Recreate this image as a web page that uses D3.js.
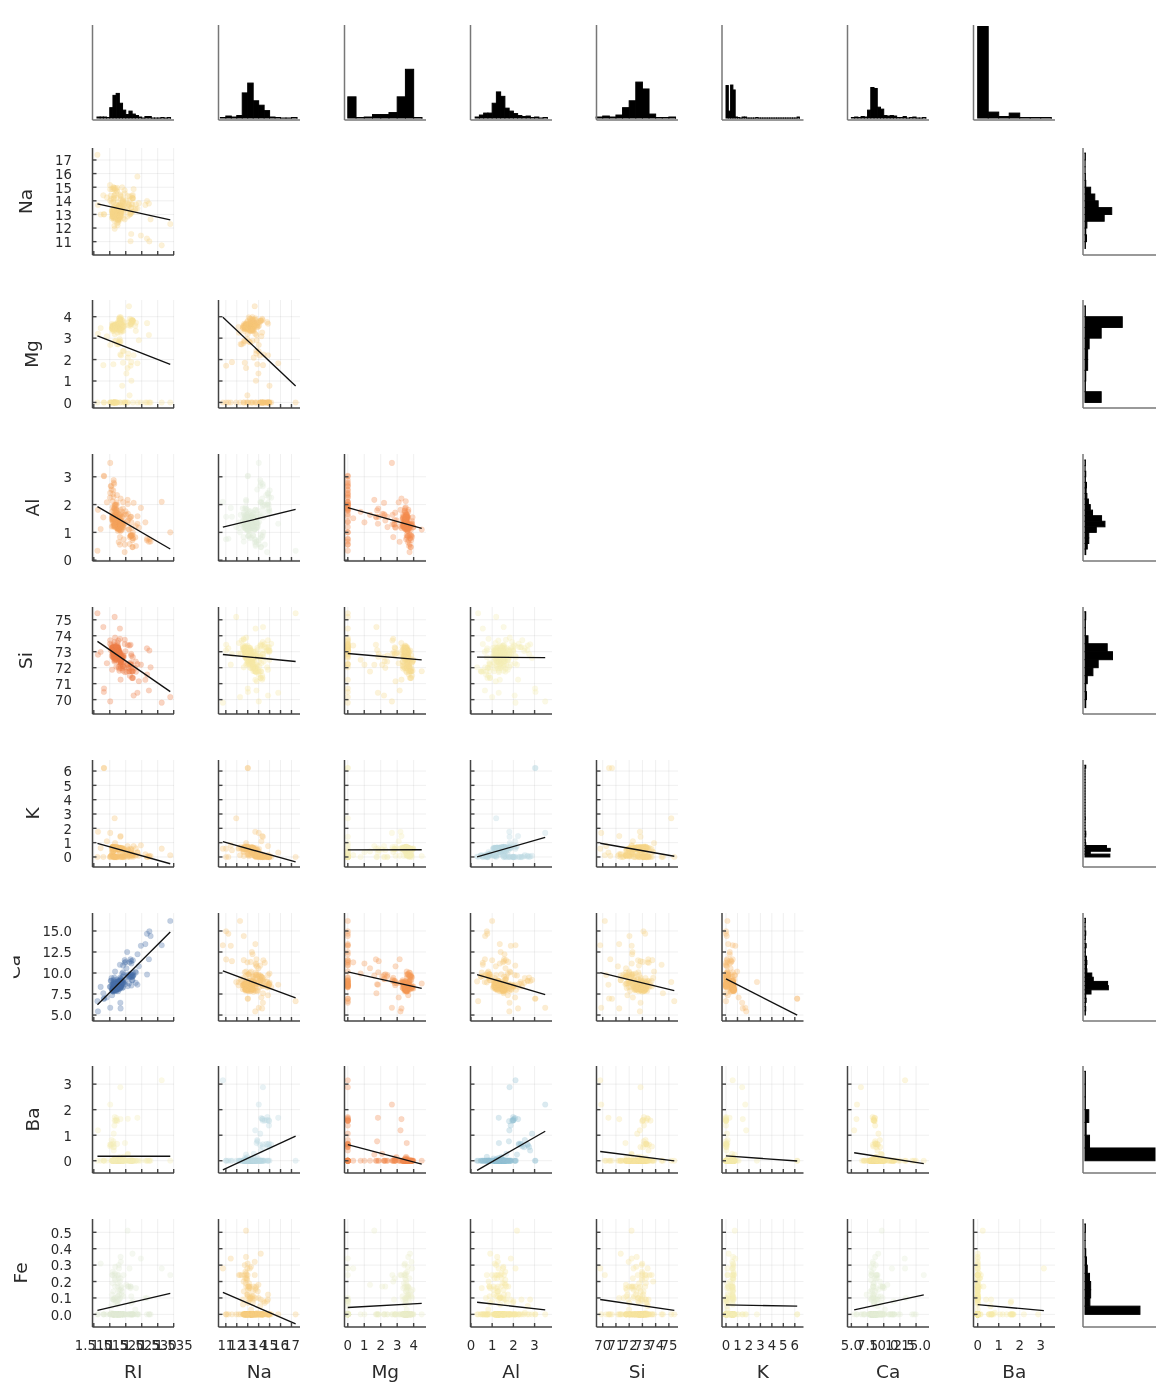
<!DOCTYPE html>
<html><head><meta charset="utf-8">
<script src="https://cdn.jsdelivr.net/npm/d3@7"></script>
<style>
html,body{margin:0;padding:0;background:#fff}
svg{display:block;filter:blur(0.6px)}
text{font-family:"DejaVu Sans",sans-serif}
</style></head><body><div id="chart"></div>
<script>
// columns: RI, Na, Mg, Al, Si, K, Ca, Ba, Fe
const windowFloat=[[1.52101,13.64,4.49,1.10,71.78,0.06,8.75,0,0],[1.51761,13.89,3.60,1.36,72.73,0.48,7.83,0,0],[1.51618,13.53,3.55,1.54,72.99,0.39,7.78,0,0],[1.51766,13.21,3.69,1.29,72.61,0.57,8.22,0,0],[1.51742,13.27,3.62,1.24,73.08,0.55,8.07,0,0],[1.51596,12.79,3.61,1.62,72.97,0.64,8.07,0,0.26],[1.51743,13.30,3.60,1.14,73.09,0.58,8.17,0,0],[1.51756,13.15,3.61,1.05,73.24,0.57,8.24,0,0],[1.51918,14.04,3.58,1.37,72.08,0.56,8.30,0,0],[1.51755,13.00,3.60,1.36,72.99,0.57,8.40,0,0.11],[1.51571,12.72,3.46,1.56,73.20,0.67,8.09,0,0.24],[1.51763,12.80,3.66,1.27,73.01,0.60,8.56,0,0],[1.51589,12.88,3.43,1.40,73.28,0.69,8.05,0,0.24],[1.51748,12.86,3.56,1.27,73.21,0.54,8.38,0,0.17],[1.51763,12.61,3.59,1.31,73.29,0.58,8.50,0,0],[1.51761,12.81,3.54,1.23,73.24,0.58,8.39,0,0],[1.51784,12.68,3.67,1.16,73.11,0.61,8.70,0,0],[1.52196,14.36,3.85,0.89,71.36,0.15,9.15,0,0],[1.51911,13.90,3.73,1.18,72.12,0.06,8.89,0,0],[1.51735,13.02,3.54,1.69,72.73,0.54,8.44,0,0.07],[1.51750,12.82,3.55,1.49,72.75,0.54,8.52,0,0.19],[1.51966,14.77,3.75,0.29,72.02,0.03,9.00,0,0],[1.51736,12.78,3.62,1.29,72.79,0.59,8.70,0,0],[1.51751,12.81,3.57,1.35,73.02,0.62,8.59,0,0],[1.51720,13.38,3.50,1.15,72.85,0.50,8.43,0,0],[1.51764,12.98,3.54,1.21,73.00,0.65,8.53,0,0],[1.51793,13.21,3.48,1.41,72.64,0.59,8.43,0,0],[1.51721,12.87,3.48,1.33,73.04,0.56,8.43,0,0],[1.51768,12.56,3.52,1.43,73.15,0.57,8.54,0,0],[1.51784,13.08,3.49,1.28,72.86,0.60,8.49,0,0],[1.51768,12.65,3.56,1.30,73.08,0.61,8.69,0,0.14],[1.51747,12.84,3.50,1.14,73.27,0.56,8.55,0,0],[1.51775,12.85,3.48,1.23,72.97,0.61,8.56,0.09,0.22],[1.51753,12.57,3.47,1.38,73.39,0.60,8.55,0,0.06],[1.51783,12.69,3.54,1.34,72.95,0.57,8.75,0,0],[1.51567,13.29,3.45,1.21,72.74,0.56,8.57,0,0],[1.51909,13.89,3.53,1.32,71.81,0.51,8.78,0.11,0],[1.51797,12.74,3.48,1.35,72.96,0.64,8.68,0,0],[1.52213,14.21,3.82,0.47,71.77,0.11,9.57,0,0],[1.52213,14.21,3.82,0.47,71.77,0.11,9.57,0,0],[1.51793,12.79,3.50,1.12,73.03,0.64,8.77,0,0],[1.51755,12.71,3.42,1.20,73.20,0.59,8.64,0,0],[1.51779,13.21,3.39,1.33,72.76,0.59,8.59,0,0],[1.52210,13.73,3.84,0.72,71.76,0.17,9.74,0,0],[1.51786,12.73,3.43,1.19,72.95,0.62,8.76,0,0.30],[1.51900,13.49,3.48,1.35,71.95,0.55,9.00,0,0],[1.51869,13.19,3.37,1.18,72.72,0.57,8.83,0,0.16],[1.52667,13.99,3.70,0.71,71.57,0.02,9.82,0,0.10],[1.52223,13.21,3.77,0.79,71.99,0.13,10.02,0,0],[1.51898,13.58,3.35,1.23,72.08,0.59,8.91,0,0],[1.52320,13.72,3.72,0.51,71.75,0.09,10.06,0,0.16],[1.51926,13.20,3.33,1.28,72.36,0.60,9.14,0,0.11],[1.51808,13.43,2.87,1.19,72.84,0.55,9.03,0,0],[1.51837,13.14,2.84,1.28,72.85,0.55,9.07,0,0],[1.51778,13.21,2.81,1.29,72.98,0.51,9.02,0,0.09],[1.51769,12.45,2.71,1.29,73.70,0.56,9.06,0,0.24],[1.51215,12.99,3.47,1.12,72.98,0.62,8.35,0,0.31],[1.51824,12.87,3.48,1.29,72.95,0.60,8.43,0,0],[1.51754,13.48,3.74,1.17,72.99,0.59,8.03,0,0],[1.51754,13.39,3.66,1.19,72.79,0.57,8.27,0,0.11],[1.51905,13.60,3.62,1.11,72.64,0.14,8.76,0,0],[1.51977,13.81,3.58,1.32,71.72,0.12,8.67,0.69,0],[1.52172,13.51,3.86,0.88,71.79,0.23,9.54,0,0.11],[1.52227,14.17,3.81,0.78,71.35,0,9.69,0,0],[1.52172,13.48,3.74,0.90,72.01,0.18,9.61,0,0.07],[1.52099,13.69,3.59,1.12,71.96,0.09,9.40,0,0],[1.52152,13.05,3.65,0.87,72.22,0.19,9.85,0,0.17],[1.52152,13.05,3.65,0.87,72.32,0.19,9.85,0,0.17],[1.52152,13.12,3.58,0.90,72.20,0.23,9.82,0,0.16],[1.52300,13.31,3.58,0.82,71.99,0.12,10.17,0,0.03]];
const windowNonFloat=[[1.51574,14.86,3.67,1.74,71.87,0.16,7.36,0,0.12],[1.51848,13.64,3.87,1.27,71.96,0.54,8.32,0,0.32],[1.51593,13.09,3.59,1.52,73.10,0.67,7.83,0,0],[1.51631,13.34,3.57,1.57,72.87,0.61,7.89,0,0],[1.51596,13.02,3.56,1.54,73.11,0.72,7.90,0,0],[1.51590,13.02,3.58,1.51,73.12,0.69,7.96,0,0],[1.51645,13.44,3.61,1.54,72.39,0.66,8.03,0,0],[1.51627,13.00,3.58,1.54,72.83,0.61,8.04,0,0],[1.51613,13.92,3.52,1.25,72.88,0.37,7.94,0,0.14],[1.51590,12.82,3.52,1.90,72.86,0.69,7.97,0,0],[1.51592,12.86,3.52,2.12,72.66,0.69,7.97,0,0],[1.51593,13.25,3.45,1.43,73.17,0.61,7.86,0,0],[1.51646,13.41,3.55,1.25,72.81,0.68,8.10,0,0],[1.51594,13.09,3.52,1.55,72.87,0.68,8.05,0,0.09],[1.51409,14.25,3.09,2.08,72.28,1.10,7.08,0,0],[1.51625,13.36,3.58,1.49,72.72,0.45,8.21,0,0],[1.51569,13.24,3.49,1.47,73.25,0.38,8.03,0,0],[1.51645,13.40,3.49,1.52,72.65,0.67,8.08,0,0.10],[1.51618,13.01,3.50,1.48,72.89,0.60,8.12,0,0],[1.51640,12.55,3.48,1.87,73.23,0.63,8.08,0,0.09],[1.51841,12.93,3.74,1.11,72.28,0.64,8.96,0,0.22],[1.51605,12.90,3.44,1.45,73.06,0.44,8.27,0,0],[1.51588,13.12,3.41,1.58,73.26,0.07,8.39,0,0.19],[1.51590,13.24,3.34,1.47,73.10,0.39,8.22,0,0],[1.51629,12.71,3.33,1.49,73.28,0.67,8.24,0,0],[1.51860,13.36,3.43,1.43,72.26,0.51,8.60,0,0],[1.51841,13.02,3.62,1.06,72.34,0.64,9.13,0,0.15],[1.51743,12.20,3.25,1.16,73.55,0.62,8.90,0,0.24],[1.51689,12.67,2.88,1.71,73.21,0.73,8.54,0,0],[1.51811,12.96,2.96,1.43,72.92,0.60,8.79,0.14,0],[1.51655,12.75,2.85,1.44,73.27,0.57,8.79,0.11,0.22],[1.51730,12.35,2.72,1.63,72.87,0.70,9.23,0,0],[1.51820,12.62,2.76,0.83,73.81,0.35,9.42,0,0.20],[1.52725,13.80,3.15,0.66,70.57,0.08,11.64,0,0],[1.52410,13.83,2.90,1.17,71.15,0.08,10.79,0,0],[1.52475,11.45,0,1.88,72.19,0.81,13.24,0,0.34],[1.53125,10.73,0,2.10,69.81,0.58,13.30,3.15,0.28],[1.53393,12.30,0,1.00,70.16,0.12,16.19,0,0.24],[1.52222,14.43,0,1.00,72.67,0.10,11.52,0,0.08],[1.51818,13.72,0,0.56,74.45,0,10.99,0,0],[1.52664,11.23,0,0.77,73.21,0,14.68,0,0],[1.52739,11.02,0,0.75,73.08,0,14.96,0,0],[1.52777,12.64,0,0.67,72.02,0.06,14.40,0,0],[1.51892,13.46,3.83,1.26,72.55,0.57,8.21,0,0.14],[1.51847,13.10,3.97,1.19,72.44,0.60,8.43,0,0],[1.51846,13.41,3.89,1.33,72.38,0.51,8.28,0,0],[1.51829,13.24,3.90,1.41,72.33,0.55,8.31,0,0.10],[1.51708,13.72,3.68,1.81,72.06,0.64,7.88,0,0],[1.51673,13.30,3.64,1.53,72.53,0.65,8.03,0,0.29],[1.51652,13.56,3.57,1.47,72.45,0.64,7.96,0,0],[1.51844,13.25,3.76,1.32,72.40,0.58,8.42,0,0],[1.51663,12.93,3.54,1.62,72.96,0.64,8.03,0,0.21],[1.51687,13.23,3.54,1.48,72.84,0.56,8.10,0,0],[1.51707,13.48,3.48,1.71,72.52,0.62,7.99,0,0],[1.52177,13.20,3.68,1.15,72.75,0.54,8.52,0,0],[1.51872,12.93,3.66,1.56,72.51,0.58,8.55,0,0.12],[1.51667,12.94,3.61,1.26,72.75,0.56,8.60,0,0],[1.52081,13.78,2.28,1.43,71.99,0.49,9.85,0,0.17],[1.52068,13.55,2.09,1.67,72.18,0.53,9.57,0.27,0.17],[1.52020,13.98,1.35,1.63,71.76,0.39,10.56,0,0.18],[1.52177,13.75,1.01,1.36,72.19,0.33,11.14,0,0],[1.52614,13.70,0,1.36,71.24,0.19,13.44,0,0.10],[1.51813,13.43,3.98,1.18,72.49,0.58,8.15,0,0],[1.51800,13.71,3.93,1.54,71.81,0.54,8.21,0,0.15],[1.51811,13.33,3.85,1.25,72.78,0.52,8.12,0,0],[1.51789,13.19,3.90,1.30,72.33,0.55,8.44,0,0.28],[1.51806,13.00,3.80,1.08,73.07,0.56,8.38,0,0.12],[1.51711,12.89,3.62,1.57,72.96,0.61,8.11,0,0],[1.51674,12.79,3.52,1.54,73.36,0.66,7.90,0,0],[1.51674,12.87,3.56,1.64,73.14,0.65,7.99,0,0],[1.51690,13.33,3.54,1.61,72.54,0.68,8.11,0,0],[1.51851,13.20,3.63,1.07,72.83,0.57,8.41,0.09,0.17],[1.51662,12.85,3.51,1.44,73.01,0.68,8.23,0.06,0.25],[1.51709,13.00,3.47,1.79,72.72,0.66,8.18,0,0],[1.51660,12.99,3.18,1.23,72.97,0.58,8.81,0,0.24],[1.51839,12.85,3.67,1.24,72.57,0.62,8.68,0,0.35]];
const vehicleFloat=[[1.51769,13.65,3.66,1.11,72.77,0.11,8.60,0,0],[1.51610,13.33,3.53,1.34,72.67,0.56,8.33,0,0],[1.51670,13.24,3.57,1.38,72.70,0.56,8.44,0,0.10],[1.51643,12.16,3.52,1.35,72.89,0.57,8.53,0,0],[1.51665,13.14,3.45,1.76,72.48,0.60,8.38,0,0.17],[1.52127,14.32,3.90,0.83,71.50,0,9.49,0,0],[1.51779,13.64,3.65,0.65,73.00,0.06,8.93,0,0],[1.51610,13.42,3.40,1.22,72.69,0.59,8.32,0,0],[1.51694,12.86,3.58,1.31,72.61,0.61,8.79,0,0],[1.51646,13.04,3.40,1.26,73.01,0.52,8.58,0,0],[1.51655,13.41,3.39,1.28,72.64,0.52,8.65,0,0],[1.52121,14.03,3.76,0.58,71.79,0.11,9.65,0,0],[1.51776,13.53,3.41,1.52,72.04,0.58,8.79,0,0],[1.51796,13.50,3.36,1.63,71.94,0.57,8.81,0,0.09],[1.51832,13.33,3.34,1.54,72.14,0.56,8.99,0,0],[1.51934,13.64,3.54,0.75,72.65,0.16,8.89,0.15,0.24],[1.52211,14.19,3.78,0.91,71.36,0.23,9.14,0,0.37]];
const containers=[[1.51514,14.01,2.68,3.50,69.89,1.68,5.87,2.20,0],[1.51915,12.73,1.85,1.86,72.69,0.60,10.09,0,0],[1.52171,11.56,1.88,1.56,72.86,0.47,11.41,0,0],[1.52151,11.03,1.71,1.56,73.44,0.58,11.62,0,0],[1.51969,12.64,0,1.65,73.75,0.38,11.53,0,0],[1.51666,12.86,0,1.83,73.88,0.97,10.17,0,0],[1.51994,13.27,0,1.76,73.03,0.47,11.32,0,0],[1.52369,13.44,0,1.58,72.22,0.32,12.24,0,0],[1.51316,13.02,0,3.04,70.48,6.21,6.96,0,0],[1.51321,13.00,0,3.02,70.70,6.21,6.93,0,0],[1.52043,13.38,0,1.40,72.25,0.33,12.50,0,0],[1.52058,12.85,1.61,2.17,72.18,0.76,9.70,0.24,0.51],[1.52119,12.97,0.33,1.51,73.39,0.13,11.27,0,0.28]];
const tableware=[[1.51905,14.00,2.39,1.56,72.37,0,9.57,0,0],[1.51937,13.79,2.41,1.19,72.76,0,9.77,0,0],[1.51829,14.46,2.24,1.62,72.38,0,9.26,0,0],[1.51852,14.09,2.19,1.66,72.67,0,9.32,0,0],[1.51299,14.40,1.74,1.54,74.55,0,7.59,0,0],[1.51888,14.99,0.78,1.74,72.50,0,9.95,0,0],[1.51916,14.15,0,2.09,72.74,0,10.88,0,0],[1.51969,14.56,0,0.56,73.48,0,11.22,0,0],[1.51115,17.38,0,0.34,75.41,0,6.65,0,0]];
const headlamps=[[1.51131,13.69,3.20,1.81,72.81,1.76,5.43,1.19,0],[1.51838,14.32,3.26,2.22,71.25,1.46,5.79,1.63,0],[1.52315,13.44,3.34,1.23,72.38,0.60,8.83,0,0],[1.52247,14.86,2.20,2.06,70.26,0.76,9.76,0,0],[1.52365,15.79,1.83,1.31,70.43,0.31,8.61,1.68,0],[1.51613,13.88,1.78,1.79,73.10,0,8.67,0.76,0],[1.51602,14.85,0,2.38,73.28,0,8.76,0.64,0.09],[1.51623,14.20,0,2.79,73.46,0.04,9.04,0.40,0.09],[1.51719,14.75,0,2.00,73.02,0,8.53,1.59,0.08],[1.51683,14.56,0,1.98,73.29,0,8.52,1.57,0.07],[1.51545,14.14,0,2.68,73.39,0.08,9.07,0.61,0.05],[1.51556,13.87,0,2.54,73.23,0.14,9.41,0.81,0.01],[1.51727,14.70,0,2.34,73.28,0,8.95,0.66,0],[1.51531,14.38,0,2.66,73.10,0.04,9.08,0.64,0],[1.51609,15.01,0,2.51,73.05,0.05,8.83,0.53,0],[1.51508,15.15,0,2.25,73.50,0,8.34,0.63,0],[1.51653,11.95,0,1.19,75.18,2.70,8.93,0,0],[1.51514,14.85,0,2.42,73.72,0,8.39,0.56,0],[1.51658,14.80,0,1.99,73.11,0,8.28,1.71,0],[1.51617,14.95,0,2.27,73.30,0,8.71,0.67,0],[1.51732,14.95,0,1.80,72.99,0,8.61,1.55,0],[1.51645,14.94,0,1.87,73.11,0,8.67,1.38,0],[1.51831,14.39,0,1.82,72.86,1.41,6.47,2.88,0],[1.51640,14.37,0,2.74,72.85,0,9.45,0.54,0],[1.51623,14.14,0,2.88,72.61,0.08,9.18,1.06,0],[1.51685,14.92,0,1.99,73.06,0,8.40,1.59,0],[1.52065,14.36,0,2.02,73.42,0,8.44,1.64,0],[1.51651,14.38,0,1.94,73.61,0,8.48,1.57,0],[1.51711,14.23,0,2.08,73.36,0,8.62,1.67,0]];

const varNames=["RI","Na","Mg","Al","Si","K","Ca","Ba","Fe"];
const axisLimits=[[1.5096,1.5351],[10.33,17.78],[-0.2,4.75],[-0.02,3.82],[69.53,75.69],[-0.35,6.76],[4.4,17.0],[-0.2,3.68],[-0.077,0.581]];
const yLimits=[null,[10.02,17.88],[-0.26,4.78],[-0.03,3.82],[69.1,75.8],[-0.7,6.77],[4.29,17.14],[-0.48,3.71],[-0.077,0.581]];
const tickValues=[[1.51,1.515,1.52,1.525,1.53,1.535],[11,12,13,14,15,16,17],[0,1,2,3,4],[0,1,2,3],[70,71,72,73,74,75],[0,1,2,3,4,5,6],[5,7.5,10,12.5,15],[0,1,2,3],[0,0.1,0.2,0.3,0.4,0.5]];
const tickFormats=[".3f","d","d","d","d","d",".1f","d",".1f"];
const histSteps=[0.001,0.5,0.5,0.2,0.5,0.2,0.5,0.5,0.05];
const histStarts=[1.511,10.5,0,0.2,69.5,0,5,0,0];
const colLefts=[92.5,218.5,344.5,470.5,596.5,722,847.5,973.5];
const rowTops=[148,300,454,607,760,913,1066,1219];
const rowHeights=[107,108,107,107,107,108,107,108];
const ylabelBaselines=[null,32,38,39,32,39,20,39,27];
const panelWidth=81.5, rightHistLeft=1083, rightHistWidth=73;
const topHistTop=25, topHistBottom=120;

const rows=[...windowFloat,...windowNonFloat,...vehicleFloat,...containers,...tableware,...headlamps];
const col=i=>rows.map(r=>r[i]);
const svg=d3.select("#chart").append("svg").attr("width",1176).attr("height",1400);
const defs=svg.append("defs");
defs.append("clipPath").attr("id","caClip").append("rect").attr("x",13.4).attr("y",900).attr("width",60).attr("height",140);

const axisCol="#444", histAxisCol="#777", textCol="#2a2a2a";
const styleAxisLine=g=>g.select(".domain").attr("stroke",axisCol).attr("stroke-width",1.5);
const styleHistAxis=g=>g.select(".domain").attr("stroke",histAxisCol).attr("stroke-width",1.5);
function styleTicks(g){
  g.selectAll(".tick line").attr("stroke",axisCol).attr("stroke-width",1.4);
  g.selectAll(".tick text").attr("fill",textCol).attr("font-size",13.3).attr("font-family",'"DejaVu Sans",sans-serif');
}
function corr(a,b){
  const ma=d3.mean(a),mb=d3.mean(b);let sab=0,saa=0,sbb=0;
  a.forEach((v,i)=>{sab+=(v-ma)*(b[i]-mb);saa+=(v-ma)**2;sbb+=(b[i]-mb)**2;});
  return {r:sab/Math.sqrt(saa*sbb),slope:sab/saa,icpt:mb-sab/saa*ma};
}
function markColor(r){
  const c=d3.rgb(d3.interpolateRdYlBu(0.5*r+0.5));
  return d3.rgb(c.r*0.97,c.g*0.96,c.b*0.94).formatHex();
}
const xScale=j=>d3.scaleLinear().domain(axisLimits[j]).range([colLefts[j],colLefts[j]+panelWidth]);
const yScale=i=>d3.scaleLinear().domain(yLimits[i]).range([rowTops[i-1]+rowHeights[i-1],rowTops[i-1]]);

// histogram bins shared by top and right panels
const histograms=varNames.map((n,i)=>{
  const vals=col(i),ext=d3.extent(vals),th=[];
  for(let k=0;;k++){const t=histStarts[i]+k*histSteps[i];if(t>ext[1]+histSteps[i])break;th.push(+t.toFixed(6));}
  return d3.bin().domain([th[0],th[th.length-1]]).thresholds(th)(vals);
});
const maxCount=d3.max(histograms,b=>d3.max(b,d=>d.length));

// top histograms
varNames.slice(0,8).forEach((n,j)=>{
  const x=xScale(j),c=d3.scaleLinear().domain([0,maxCount]).range([118,26.5]);
  const g=svg.append("g");
  g.selectAll("rect").data(histograms[j]).join("rect")
    .attr("x",d=>x(d.x0)).attr("width",d=>Math.max(0.1,x(d.x1)-x(d.x0)))
    .attr("y",d=>c(d.length)).attr("height",d=>Math.max(0.1,118-c(d.length)))
    .attr("fill","#000").attr("stroke","#000").attr("stroke-width",1);
  const ax=svg.append("g").attr("transform",`translate(0,${topHistBottom})`)
    .call(d3.axisBottom(x).offset(0).tickValues([]).tickSize(0).tickSizeOuter(0));
  styleHistAxis(ax);
  const ay=svg.append("g").attr("transform",`translate(${colLefts[j]},0)`)
    .call(d3.axisLeft(d3.scaleLinear().domain([0,1]).range([topHistBottom,topHistTop])).offset(0).tickValues([]).tickSize(0).tickSizeOuter(0));
  styleHistAxis(ay);
});

// right histograms
varNames.slice(1).forEach((n,k)=>{
  const i=k+1,y=yScale(i),c=d3.scaleLinear().domain([0,maxCount]).range([1085,1155]);
  const g=svg.append("g");
  g.selectAll("rect").data(histograms[i]).join("rect")
    .attr("y",d=>y(d.x1)).attr("height",d=>Math.max(0.1,y(d.x0)-y(d.x1)))
    .attr("x",1085).attr("width",d=>Math.max(0.1,c(d.length)-1085))
    .attr("fill","#000").attr("stroke","#000").attr("stroke-width",1);
  const ax=svg.append("g").attr("transform",`translate(0,${rowTops[k]+rowHeights[k]})`)
    .call(d3.axisBottom(d3.scaleLinear().domain([0,1]).range([rightHistLeft,rightHistLeft+rightHistWidth])).offset(0).tickValues([]).tickSize(0).tickSizeOuter(0));
  styleHistAxis(ax);
  const ay=svg.append("g").attr("transform",`translate(${rightHistLeft},0)`)
    .call(d3.axisLeft(y).offset(0).tickValues([]).tickSize(0).tickSizeOuter(0));
  styleHistAxis(ay);
});

// scatter panels
for(let i=1;i<9;i++){
  for(let j=0;j<i;j++){
    const x=xScale(j),y=yScale(i),top=rowTops[i-1],h=rowHeights[i-1],bottom=top+h,left=colLefts[j];
    const xs=col(j),ys=col(i),fit=corr(xs,ys);
    const color=markColor(fit.r);
    const p=svg.append("g");
    p.append("g").attr("transform",`translate(0,${bottom})`)
      .call(d3.axisBottom(x).offset(0).tickValues(tickValues[j]).tickSize(-h).tickFormat(""))
      .call(g=>g.select(".domain").remove())
      .call(g=>g.selectAll("line").attr("stroke","#000").attr("stroke-opacity",0.07).attr("stroke-width",0.9));
    p.append("g").attr("transform",`translate(${left},0)`)
      .call(d3.axisLeft(y).offset(0).tickValues(tickValues[i]).tickSize(-panelWidth).tickFormat(""))
      .call(g=>g.select(".domain").remove())
      .call(g=>g.selectAll("line").attr("stroke","#000").attr("stroke-opacity",0.07).attr("stroke-width",0.9));
    p.append("g").selectAll("circle").data(rows).join("circle")
      .attr("cx",d=>x(d[j])).attr("cy",d=>y(d[i])).attr("r",2.8)
      .attr("fill",color).attr("fill-opacity",0.33)
      .attr("stroke",color).attr("stroke-opacity",0.25).attr("stroke-width",0.4);
    const ext=d3.extent(xs);
    p.append("path").attr("d",d3.line().x(d=>x(d)).y(d=>y(fit.slope*d+fit.icpt))(ext))
      .attr("fill","none").attr("stroke","#111").attr("stroke-width",1.35);
    const ay=p.append("g").attr("transform",`translate(${left},0)`);
    const yAxis=d3.axisLeft(y).offset(0).tickValues(tickValues[i]).tickSize(-4).tickSizeOuter(0).tickPadding(20.5);
    if(j===0) yAxis.tickFormat(d3.format(tickFormats[i])); else yAxis.tickFormat("");
    ay.call(yAxis).call(styleAxisLine).call(styleTicks);
    ay.selectAll(".tick text").attr("dy","0.4em");
    const ax=p.append("g").attr("transform",`translate(0,${bottom})`);
    const xAxis=d3.axisBottom(x).offset(0).tickValues(tickValues[j]).tickSize(-4).tickSizeOuter(0).tickPadding(13.8);
    if(i===8) xAxis.tickFormat(d3.format(tickFormats[j])); else xAxis.tickFormat("");
    ax.call(xAxis).call(styleAxisLine).call(styleTicks);
  }
}

// axis titles
varNames.slice(0,8).forEach((n,j)=>{
  svg.append("text").attr("x",colLefts[j]+panelWidth/2).attr("y",1378).attr("text-anchor","middle")
    .attr("font-size",18.5).attr("fill",textCol).text(n);
});
varNames.slice(1).forEach((n,k)=>{
  const i=k+1,cy=rowTops[k]+rowHeights[k]/2,bx=ylabelBaselines[i];
  const holder=svg.append("g");
  if(n==="Ca") holder.attr("clip-path","url(#caClip)");
  holder.append("text").attr("transform",`translate(${bx},${cy}) rotate(-90)`).attr("text-anchor","middle")
    .attr("font-size",18.5).attr("fill",textCol).text(n);
});
</script></body></html>
